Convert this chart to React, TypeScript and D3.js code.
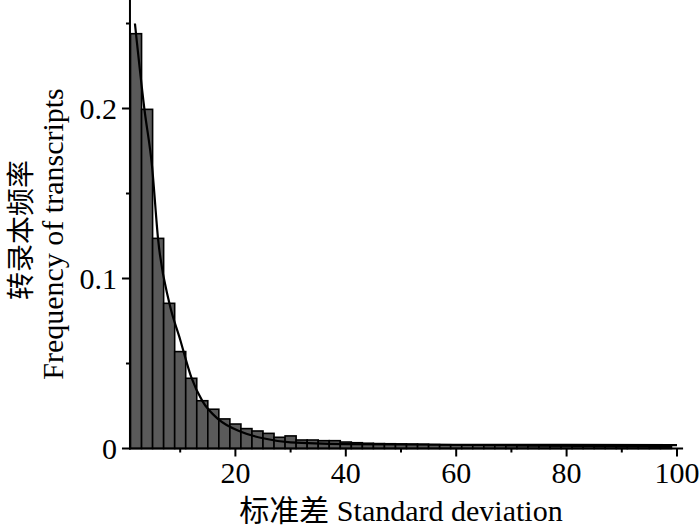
import React from "react";
import * as d3 from "d3";

// Histogram bins: start of each bin (width 2), and relative frequency
const binStarts: number[] = Array.from({ length: 49 }, (_, i) => 1 + 2 * i);
const binWidth = 2;
const frequencies: number[] = [
  0.244, 0.1995, 0.1236, 0.0854, 0.057, 0.0413, 0.0281, 0.0231, 0.0174, 0.0144,
  0.0117, 0.0103, 0.0089, 0.0066, 0.0074, 0.005, 0.005, 0.0046, 0.0046, 0.0038,
  0.0034, 0.0031, 0.0029, 0.0028, 0.0027, 0.0026, 0.0025, 0.0023, 0.0022, 0.0021,
  0.002, 0.0019, 0.0018, 0.0018, 0.0017, 0.0016, 0.0015, 0.0015, 0.0014, 0.0014,
  0.0013, 0.0013, 0.0012, 0.0012, 0.0011, 0.0011, 0.0011, 0.001, 0.001,
];

// Fitted curve
const curveX: number[] = [1.8, 3.5, 4.9, 6, 8, 10, 12, 14, 17, 21, 25, 30, 40, 60, 80, 100];
const curveY: number[] = [0.25, 0.2, 0.166, 0.123, 0.086, 0.064, 0.042, 0.028, 0.017, 0.0099, 0.006, 0.0036, 0.0026, 0.0022, 0.0021, 0.002];

const xMajorTicks: number[] = [20, 40, 60, 80, 100];
const xMinorTicks: number[] = [10, 30, 50, 70, 90];
const yMajorTicks: number[] = [0, 0.1, 0.2];
const yMinorTicks: number[] = [0.05, 0.15, 0.25];
const yTickLabels: string[] = ["0", "0.1", "0.2"];

const xTitleCn = "标准差";
const xTitleEn = "Standard deviation";
const yTitleCn = "转录本频率";
const yTitleEn = "Frequency of transcripts";

export default function App() {
  const W = 700;
  const H = 531;
  const x = d3.scaleLinear().domain([0, 100]).range([125, 677]);
  const y = d3.scaleLinear().domain([0, 0.25]).range([448.5, 23.5]);
  const axisX = x(0.9);
  const axisY = y(0);
  const font = "'Liberation Serif', 'Times New Roman', 'Noto Sans CJK SC', serif";

  const line = d3
    .line<number>()
    .x((_, i) => x(curveX[i]))
    .y((d) => y(d))
    .curve(d3.curveMonotoneX);

  return (
    <svg
      width={W}
      height={H}
      style={{ position: "absolute", left: 0, top: 0, background: "#fff" }}
      fontFamily={font}
    >
      {/* bars */}
      {frequencies.map((f, i) => (
        <rect
          key={i}
          x={x(binStarts[i])}
          y={y(f)}
          width={x(binStarts[i] + binWidth) - x(binStarts[i])}
          height={axisY - y(f)}
          fill="#5a5a5a"
          stroke="#000"
          strokeWidth={1.6}
        />
      ))}
      {/* fitted curve */}
      <path d={line(curveY) || ""} fill="none" stroke="#000" strokeWidth={2.2} />

      {/* axes */}
      <line x1={axisX} x2={axisX} y1={0} y2={axisY + 1} stroke="#000" strokeWidth={2} />
      <line x1={axisX - 1} x2={x(101.1)} y1={axisY} y2={axisY} stroke="#000" strokeWidth={2} />

      {yMajorTicks.map((t, i) => (
        <g key={"ym" + i}>
          <line x1={axisX - 8} x2={axisX} y1={y(t)} y2={y(t)} stroke="#000" strokeWidth={2} />
          <text x={117} y={y(t)} dy="0.35em" textAnchor="end" fontSize={30} fill="#000">
            {yTickLabels[i]}
          </text>
        </g>
      ))}
      {yMinorTicks.map((t, i) => (
        <line key={"yn" + i} x1={axisX - 4} x2={axisX} y1={y(t)} y2={y(t)} stroke="#000" strokeWidth={2} />
      ))}
      {xMajorTicks.map((t, i) => (
        <g key={"xm" + i}>
          <line x1={x(t)} x2={x(t)} y1={axisY} y2={axisY + 8} stroke="#000" strokeWidth={2} />
          <text x={x(t)} y={483} textAnchor="middle" fontSize={30} fill="#000">
            {t}
          </text>
        </g>
      ))}
      {xMinorTicks.map((t, i) => (
        <line key={"xn" + i} x1={x(t)} x2={x(t)} y1={axisY} y2={axisY + 4} stroke="#000" strokeWidth={2} />
      ))}

      {/* axis titles */}
      <text x={401} y={521} textAnchor="middle" fontSize={30} fill="#000">
        <tspan fontFamily="'Noto Sans CJK SC', sans-serif">{xTitleCn}</tspan>
        <tspan> {xTitleEn}</tspan>
      </text>
      <text
        transform={`translate(31, 230) rotate(-90)`}
        textAnchor="middle"
        fontSize={28}
        fill="#000"
        fontFamily="'Noto Sans CJK SC', sans-serif"
      >
        {yTitleCn}
      </text>
      <text transform={`translate(63, 234) rotate(-90)`} textAnchor="middle" fontSize={30} fill="#000">
        {yTitleEn}
      </text>
    </svg>
  );
}
